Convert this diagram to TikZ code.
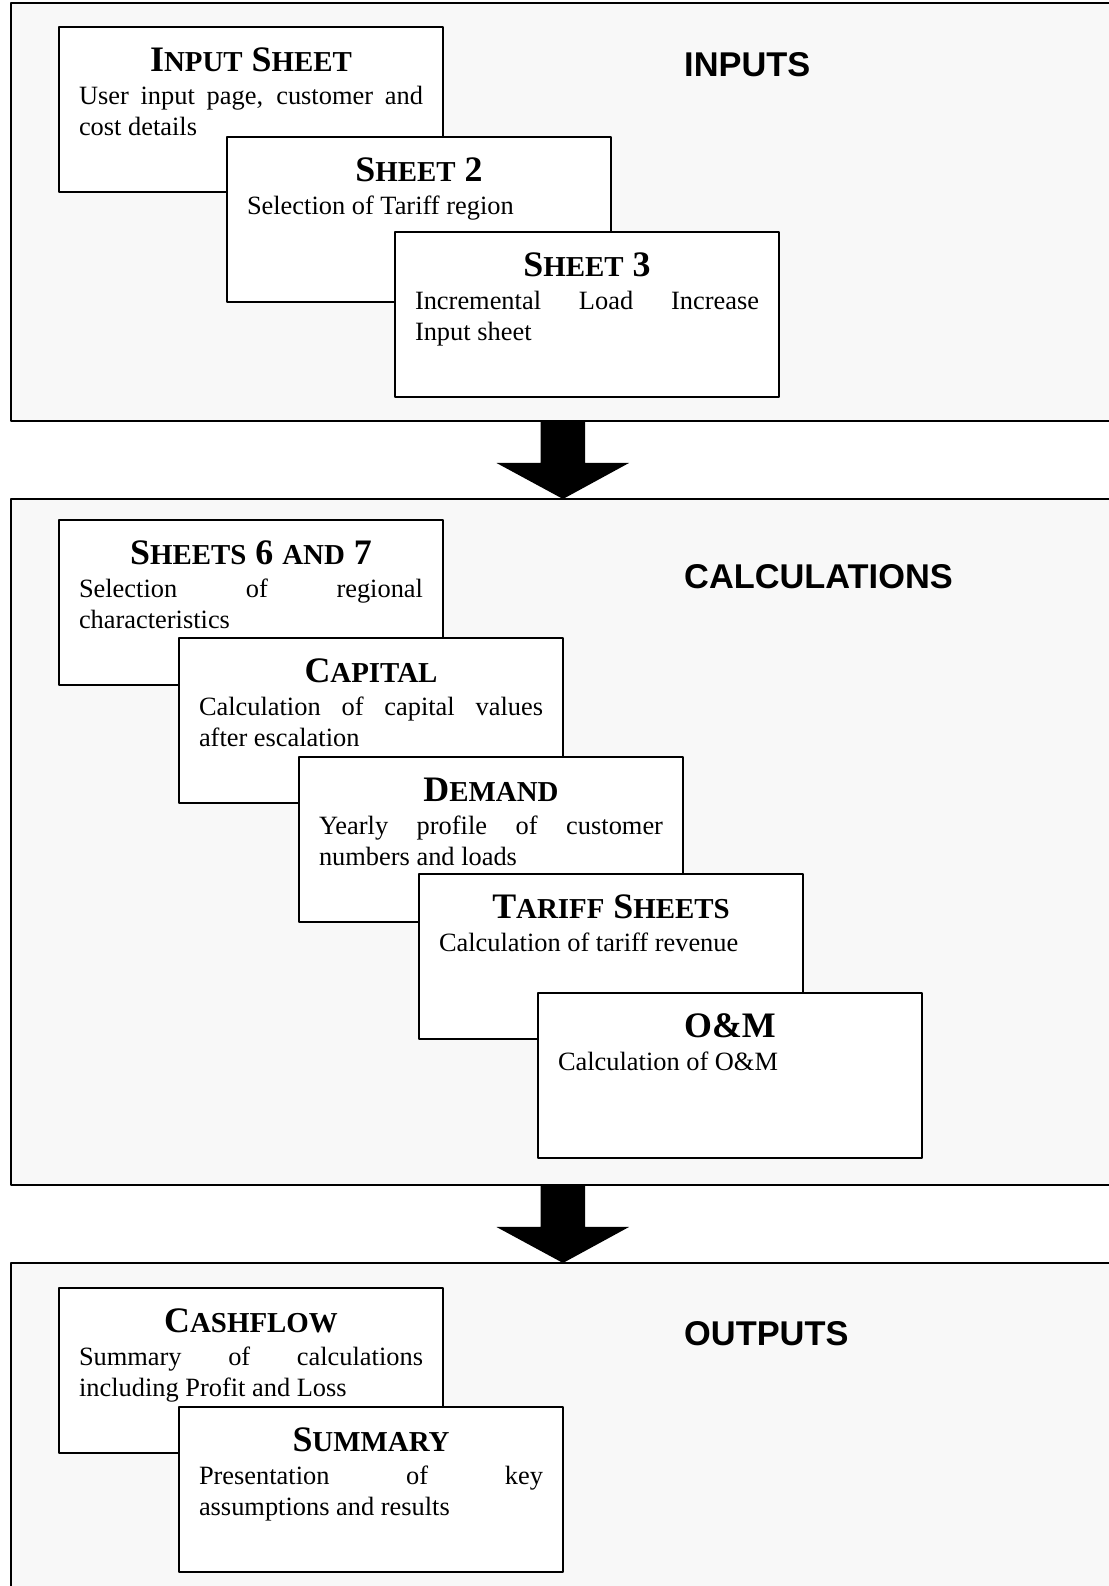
\documentclass[tikz,border=0pt]{standalone}
\usepackage{fontspec}
\setmainfont{Liberation Serif}
\newfontfamily\labelfont{Liberation Sans}
\definecolor{panelgray}{HTML}{F8F8F8}
\newcommand{\smc}[1]{{\fontsize{29}{32}\selectfont #1}}
\newcommand{\fullline}[1]{\makebox[\linewidth][s]{#1}}
\newcommand{\sheettext}[2]{\parbox[t][125bp][t]{344bp}{%
  {\centering\fontsize{36}{40}\selectfont\bfseries\rule{0pt}{25bp}#1\par}%
  \vspace{2.6bp}%
  \fontsize{26.5}{30.4}\selectfont #2\par}}
\begin{document}
\begin{tikzpicture}[>=latex,line join=bevel,
  panel/.style={draw,line width=2.2bp,fill=panelgray,minimum width=1104bp,inner sep=0pt,outer sep=0pt},
  sheetbox/.style={draw,line width=1.8bp,fill=white,anchor=north west,inner sep=20bp,outer sep=0pt},
  paneltitle/.style={anchor=base west,inner sep=0pt,font=\labelfont\fontsize{34.5}{40}\selectfont\bfseries},
  blockarrow/.style={fill=black}]
\useasboundingbox (0bp,0bp) rectangle (1109bp,1586bp);
%%
\node (node_inputs) at (563bp,1374bp) [panel,minimum height=418bp] {};
  \node (node_calcs) at (563bp,744bp) [panel,minimum height=686bp] {};
  \node (node_outputs) at (563bp,153.5bp) [panel,minimum height=339bp] {};
  \fill [blockarrow] ([xshift=-22.5bp]node_inputs.south) -- ++(0,-42bp) -- ++(-44bp,0) -- (node_calcs.north) -- ++(66bp,36bp) -- ++(-44bp,0) -- ++(0,42bp) -- cycle;
  \fill [blockarrow] ([xshift=-22.5bp]node_calcs.south) -- ++(0,-42bp) -- ++(-44bp,0) -- (node_outputs.north) -- ++(66bp,36bp) -- ++(-44bp,0) -- ++(0,42bp) -- cycle;
%
\node (label_inputs) at (684bp,1509bp) [paneltitle] {INPUTS};
  \node (label_calcs) at (684bp,997bp) [paneltitle] {CALCULATIONS};
  \node (label_outputs) at (684bp,240bp) [paneltitle] {OUTPUTS};
%
\node (box_input) at (59bp,1559bp) [sheetbox] {\sheettext{I\smc{NPUT} S\smc{HEET}}{\fullline{User input page, customer and}\par cost details}};
  \node (box_sheet2) at (227bp,1449bp) [sheetbox] {\sheettext{S\smc{HEET} 2}{Selection of Tariff region}};
  \node (box_sheet3) at (395bp,1354bp) [sheetbox] {\sheettext{S\smc{HEET} 3}{\fullline{Incremental Load Increase}\par Input sheet}};
%
\node (box_regions) at (59bp,1066bp) [sheetbox] {\sheettext{S\smc{HEETS} 6 \smc{AND} 7}{\fullline{Selection of regional}\par characteristics}};
  \node (box_capital) at (179bp,948bp) [sheetbox] {\sheettext{C\smc{APITAL}}{\fullline{Calculation of capital values}\par after escalation}};
  \node (box_demand) at (299bp,829bp) [sheetbox] {\sheettext{D\smc{EMAND}}{\fullline{Yearly profile of customer}\par numbers and loads}};
  \node (box_tariff) at (419bp,712bp) [sheetbox] {\sheettext{T\smc{ARIFF} S\smc{HEETS}}{Calculation of tariff revenue}};
  \node (box_om) at (538bp,593bp) [sheetbox] {\sheettext{O\&M}{Calculation of O\&M}};
%
\node (box_cashflow) at (59bp,298bp) [sheetbox] {\sheettext{C\smc{ASHFLOW}}{\fullline{Summary of calculations}\par including Profit and Loss}};
  \node (box_summary) at (179bp,179bp) [sheetbox] {\sheettext{S\smc{UMMARY}}{\fullline{Presentation of key}\par assumptions and results}};
%
\end{tikzpicture}
\end{document}
